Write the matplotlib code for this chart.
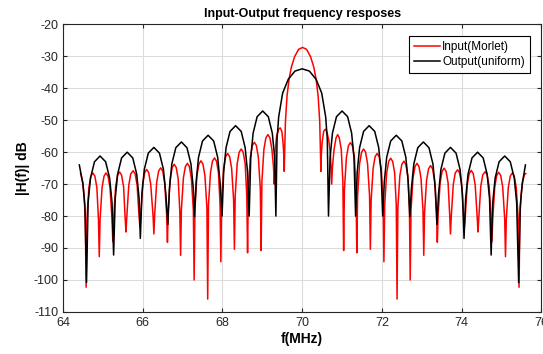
import matplotlib
matplotlib.use("Agg")
import matplotlib.pyplot as plt

plt.rcParams["font.family"] = ["Liberation Sans", "DejaVu Sans"]
plt.rcParams["axes.unicode_minus"] = False

# Input (Morlet) response (MHz, dB)
f_in = [
    64.44, 64.49, 64.53, 64.56, 64.58,
    64.60, 64.65, 64.70, 64.75, 64.80, 64.85, 64.89, 64.91,
    64.93, 64.98, 65.03, 65.08, 65.13, 65.18, 65.23, 65.25,
    65.27, 65.32, 65.37, 65.42, 65.47, 65.52, 65.56, 65.58,
    65.60, 65.65, 65.70, 65.76, 65.81, 65.86, 65.91, 65.93,
    65.95, 66.00, 66.05, 66.10, 66.15, 66.20, 66.26, 66.28,
    66.30, 66.35, 66.40, 66.45, 66.50, 66.55, 66.60, 66.62,
    66.64, 66.69, 66.74, 66.79, 66.84, 66.89, 66.93, 66.95,
    66.97, 67.02, 67.07, 67.12, 67.17, 67.22, 67.27, 67.29,
    67.31, 67.36, 67.41, 67.46, 67.51, 67.56, 67.61, 67.63,
    67.65, 67.70, 67.75, 67.80, 67.85, 67.90, 67.94, 67.96,
    67.98, 68.03, 68.08, 68.13, 68.18, 68.23, 68.28, 68.30,
    68.32, 68.37, 68.42, 68.47, 68.52, 68.57, 68.61, 68.63,
    68.65, 68.70, 68.75, 68.80, 68.85, 68.90, 68.95, 68.97,
    68.99, 69.04, 69.09, 69.14, 69.19, 69.24, 69.28, 69.30,
    69.32, 69.36, 69.41, 69.45, 69.49, 69.52, 69.54, 69.55,
    69.56, 69.58, 69.62, 69.67, 69.73, 69.81, 69.91, 70.01,
    70.11, 70.21, 70.29, 70.35, 70.40, 70.44, 70.46, 70.47,
    70.48, 70.50, 70.54, 70.58, 70.62, 70.67, 70.71, 70.74,
    70.76, 70.80, 70.85, 70.89, 70.93, 70.98, 71.02, 71.04,
    71.06, 71.11, 71.16, 71.21, 71.26, 71.31, 71.35, 71.37,
    71.39, 71.44, 71.49, 71.54, 71.59, 71.64, 71.69, 71.71,
    71.73, 71.78, 71.83, 71.88, 71.93, 71.98, 72.03, 72.05,
    72.07, 72.12, 72.17, 72.22, 72.27, 72.32, 72.36, 72.38,
    72.40, 72.45, 72.50, 72.55, 72.60, 72.65, 72.69, 72.71,
    72.73, 72.78, 72.83, 72.88, 72.93, 72.98, 73.03, 73.05,
    73.07, 73.12, 73.17, 73.22, 73.27, 73.32, 73.37, 73.39,
    73.41, 73.46, 73.51, 73.56, 73.61, 73.66, 73.70, 73.72,
    73.74, 73.79, 73.84, 73.90, 73.95, 74.00, 74.05, 74.07,
    74.09, 74.14, 74.19, 74.24, 74.29, 74.34, 74.39, 74.41,
    74.43, 74.48, 74.53, 74.59, 74.64, 74.69, 74.74, 74.76,
    74.78, 74.83, 74.88, 74.93, 74.98, 75.03, 75.08, 75.10,
    75.12, 75.17, 75.22, 75.27, 75.32, 75.37, 75.42, 75.44,
    75.46, 75.49, 75.53, 75.58, 75.61,
]
db_in = [
    -66.6, -69.0, -73.4, -81.0, -102.3,
    -81.1, -71.1, -67.5, -66.5, -67.5, -71.1, -81.1, -92.7,
    -81.1, -71.1, -67.5, -66.5, -67.5, -71.1, -81.1, -88.0,
    -80.8, -70.8, -67.2, -66.2, -67.2, -70.8, -80.8, -85.0,
    -80.4, -70.4, -66.8, -65.8, -66.8, -70.4, -80.4, -83.3,
    -80.0, -70.0, -66.4, -65.4, -66.4, -70.0, -80.0, -85.6,
    -79.5, -69.5, -65.9, -64.9, -65.9, -69.5, -79.5, -88.2,
    -78.4, -68.4, -64.8, -63.8, -64.8, -68.4, -78.4, -92.3,
    -78.1, -68.1, -64.5, -63.5, -64.5, -68.1, -78.1, -100.0,
    -77.3, -67.3, -63.7, -62.7, -63.7, -67.3, -77.3, -106.0,
    -76.4, -66.4, -62.8, -61.8, -62.8, -66.4, -76.4, -94.3,
    -75.0, -65.0, -61.4, -60.4, -61.4, -65.0, -75.0, -90.4,
    -73.6, -63.6, -60.0, -59.0, -60.0, -63.6, -73.6, -91.5,
    -71.5, -61.5, -57.9, -56.9, -57.9, -61.5, -71.5, -90.8,
    -69.1, -59.1, -55.5, -54.5, -55.5, -59.1, -64.5, -70.0,
    -60.0, -54.8, -52.8, -52.4, -53.5, -57.0, -61.0, -66.0,
    -60.0, -50.4, -42.4, -37.2, -33.3, -30.1, -27.8, -27.2,
    -27.8, -30.1, -33.3, -37.2, -42.4, -50.4, -60.0, -66.0,
    -61.0, -57.0, -53.5, -52.8, -53.6, -56.5, -61.0, -70.0,
    -64.5, -59.1, -55.5, -54.5, -55.5, -59.1, -69.1, -90.8,
    -71.6, -61.6, -58.0, -57.0, -58.0, -61.6, -71.6, -91.5,
    -73.6, -63.6, -60.0, -59.0, -60.0, -63.6, -73.6, -90.4,
    -75.0, -65.0, -61.4, -60.4, -61.4, -65.0, -75.0, -94.3,
    -76.5, -66.5, -62.9, -61.9, -62.9, -66.5, -76.5, -106.0,
    -77.4, -67.4, -63.8, -62.8, -63.8, -67.4, -77.4, -100.0,
    -78.1, -68.1, -64.5, -63.5, -64.5, -68.1, -78.1, -92.3,
    -78.8, -68.8, -65.2, -64.2, -65.2, -68.8, -78.8, -88.2,
    -79.6, -69.6, -66.0, -65.0, -66.0, -69.6, -79.6, -85.6,
    -80.1, -70.1, -66.5, -65.5, -66.5, -70.1, -80.1, -83.3,
    -80.3, -70.3, -66.7, -65.7, -66.7, -70.3, -80.3, -85.0,
    -80.7, -70.7, -67.1, -66.1, -67.1, -70.7, -80.7, -88.0,
    -80.9, -70.9, -67.3, -66.3, -67.3, -70.9, -80.9, -92.7,
    -81.1, -71.1, -67.5, -66.5, -67.5, -71.1, -81.1, -102.3,
    -81.0, -73.4, -69.0, -66.9, -66.7,
]

# Output (uniform) response
f_out = [
    64.41, 64.50, 64.55, 64.59,
    64.63, 64.69, 64.79, 64.93, 65.07, 65.17, 65.23, 65.27,
    65.31, 65.37, 65.47, 65.61, 65.75, 65.85, 65.91, 65.94,
    65.98, 66.04, 66.14, 66.28, 66.42, 66.52, 66.58, 66.63,
    66.67, 66.73, 66.83, 66.97, 67.11, 67.21, 67.27, 67.30,
    67.34, 67.40, 67.50, 67.64, 67.78, 67.88, 67.94, 67.99,
    68.03, 68.09, 68.19, 68.33, 68.47, 68.57, 68.63, 68.67,
    68.71, 68.77, 68.87, 69.01, 69.15, 69.25, 69.31, 69.34,
    69.37, 69.41, 69.51, 69.65, 69.82, 70.00, 70.18, 70.35, 70.49, 70.59, 70.63, 70.66,
    70.70, 70.76, 70.86, 71.00, 71.14, 71.24, 71.30, 71.34,
    71.38, 71.44, 71.54, 71.68, 71.82, 71.92, 71.98, 72.02,
    72.06, 72.12, 72.22, 72.36, 72.50, 72.60, 72.66, 72.70,
    72.74, 72.80, 72.90, 73.04, 73.18, 73.28, 73.34, 73.38,
    73.42, 73.48, 73.58, 73.72, 73.86, 73.96, 74.02, 74.06,
    74.10, 74.16, 74.26, 74.40, 74.54, 74.64, 74.70, 74.74,
    74.78, 74.84, 74.94, 75.08, 75.22, 75.32, 75.38, 75.43,
    75.47, 75.52, 75.60,
]
db_out = [
    -64.0, -70.0, -77.0, -100.8,
    -75.8, -68.1, -63.0, -61.2, -63.0, -68.1, -75.8, -92.2,
    -74.6, -66.9, -61.8, -60.0, -61.8, -66.9, -74.6, -87.0,
    -73.1, -65.4, -60.3, -58.5, -60.3, -65.4, -73.1, -82.6,
    -71.4, -63.7, -58.6, -56.8, -58.6, -63.7, -71.4, -80.2,
    -69.3, -61.6, -56.5, -54.7, -56.5, -61.6, -69.3, -80.0,
    -66.3, -58.6, -53.5, -51.7, -53.5, -58.6, -66.3, -80.0,
    -61.7, -54.0, -48.9, -47.1, -48.9, -54.0, -61.7, -80.0,
    -56.0, -49.0, -41.5, -37.2, -34.6, -33.9, -34.6, -37.2, -41.5, -49.0, -56.0, -80.0,
    -61.7, -54.0, -48.9, -47.1, -48.9, -54.0, -61.7, -80.0,
    -66.3, -58.6, -53.5, -51.7, -53.5, -58.6, -66.3, -80.0,
    -69.3, -61.6, -56.5, -54.7, -56.5, -61.6, -69.3, -80.2,
    -71.4, -63.7, -58.6, -56.8, -58.6, -63.7, -71.4, -82.6,
    -73.1, -65.4, -60.3, -58.5, -60.3, -65.4, -73.1, -87.0,
    -74.6, -66.9, -61.8, -60.0, -61.8, -66.9, -74.6, -92.2,
    -75.8, -68.1, -63.0, -61.2, -63.0, -68.1, -75.8, -100.8,
    -77.0, -70.0, -64.0,
]

xticks = [64, 66, 68, 70, 72, 74, 76]
yticks = list(range(-110, -19, 10))

fig = plt.figure(figsize=(5.43, 3.54), dpi=100)
ax = fig.add_axes([0.116, 0.119, 0.881, 0.812])

ax.plot(f_in, db_in, color="#ff0000", lw=1.1, label="Input(Morlet)")
ax.plot(f_out, db_out, color="black", lw=1.1, label="Output(uniform)")

ax.set_xlim(64, 76)
ax.set_ylim(-110, -20)
ax.set_xticks(xticks)
ax.set_yticks(yticks)
ax.grid(True, color="#dcdcdc", lw=0.8)
ax.set_axisbelow(True)
ax.tick_params(direction="in", length=3, labelsize=9, colors="#262626",
               top=True, right=True)
for s in ax.spines.values():
    s.set_color("#262626")
    s.set_linewidth(0.8)

ax.set_title("Input-Output frequency resposes", fontsize=9, fontweight="bold", pad=5)
ax.set_xlabel("f(MHz)", fontsize=10, fontweight="bold", labelpad=2)
ax.set_ylabel("|H(f)| dB", fontsize=10, fontweight="bold", labelpad=2)

leg = ax.legend(loc="upper right", fontsize=8.5, fancybox=False,
                edgecolor="black", framealpha=1, borderaxespad=1.0,
                handlelength=2.2, handletextpad=0.2, borderpad=0.4,
                labelspacing=0.3)
leg.get_frame().set_linewidth(0.8)

fig.savefig("out.png", dpi=100)
